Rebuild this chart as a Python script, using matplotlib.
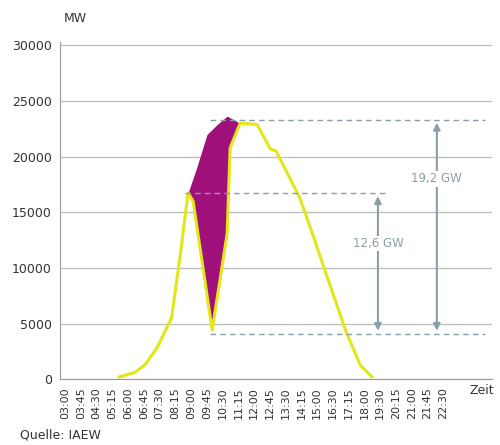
import matplotlib.pyplot as plt
import numpy as np

labels = ["03:00", "03:45", "04:30", "05:15", "06:00", "06:45", "07:30", "08:15", "09:00",
          "09:45", "10:30", "11:15", "12:00", "12:45", "13:30", "14:15", "15:00", "16:30",
          "17:15", "18:00", "19:30", "20:15", "21:00", "21:45", "22:30"]

# actual feed-in (x in label-index units)
act_x = [3.43, 4.43, 5.08, 5.83, 6.76, 7.3, 7.81, 8.13, 9.34, 10.29, 10.48, 11.11, 12.19,
         13.03, 13.40, 14.90, 15.65, 16.49, 17.80, 18.74, 19.48]
act_y = [200, 600, 1300, 2800, 5500, 11000, 16750, 16000, 4400, 13100, 20800, 23000, 22900,
         20700, 20500, 16300, 13300, 9800, 4400, 1250, 200]
# expected feed-in without eclipse
exp_x = [7.81, 8.35, 9.01, 9.66, 10.29, 11.11]
exp_y = [16750, 19000, 22000, 22900, 23650, 23000]

grey = "#8a9ea8"
fig = plt.figure(figsize=(5, 4.45), dpi=100)
ax = fig.add_axes([0.12, 0.148, 0.864, (379 - 42) / 445])

xe = np.linspace(exp_x[0], exp_x[-1], 200)
upper = np.interp(xe, exp_x, exp_y)
lower = np.interp(xe, act_x, act_y)
ax.fill_between(xe, lower, upper, color="#a0107a", lw=0, zorder=2)
ax.plot(act_x, act_y, color="#e3e619", lw=2.2, zorder=3)

for y, x0, x1 in [(23300, 9.2, 26.68), (16700, 7.61, 20.32), (4100, 9.2, 26.68)]:
    ax.plot([x0, x1], [y, y], ls=(0, (4, 3)), color=grey, lw=1, zorder=4)
for x, y0, y1, txt, ty in [(19.86, 4100, 16700, "12,6 GW", 12200), (23.6, 4100, 23300, "19,2 GW", 18000)]:
    ax.annotate("", xy=(x, y1), xytext=(x, y0),
                arrowprops=dict(arrowstyle="<|-|>", color=grey, lw=1.5, mutation_scale=10), zorder=4)
    ax.text(x, ty, txt, color=grey, fontsize=8.5, ha="center", va="center",
            bbox=dict(fc="white", ec="none", pad=1), zorder=5)

ax.set_xlim(-0.32, 27.1)
ax.set_ylim(0, 30300)
ax.set_yticks(range(0, 30001, 5000))
ax.set_yticklabels([str(v) for v in range(0, 30001, 5000)], fontsize=9, color="#333333")
ax.set_xticks(range(len(labels)))
ax.set_xticklabels(labels, rotation=90, fontsize=8, color="#333333")
ax.tick_params(length=0, pad=6)
ax.grid(axis="y", color="#bbbbbb", lw=0.9)
ax.set_axisbelow(True)
for s in ["top", "right"]:
    ax.spines[s].set_visible(False)
ax.spines["left"].set_color("#999999")
ax.spines["bottom"].set_color("#999999")

fig.text(75 / 500, 1 - 18 / 445, "MW", fontsize=9, color="#333333", ha="center", va="center")
fig.text(482 / 500, 1 - 390 / 445, "Zeit", fontsize=9, color="#333333", ha="center", va="center")
fig.text(20 / 500, 1 - 435 / 445, "Quelle: IAEW", fontsize=9, color="#333333", va="center")

fig.savefig("out.png", dpi=100)
